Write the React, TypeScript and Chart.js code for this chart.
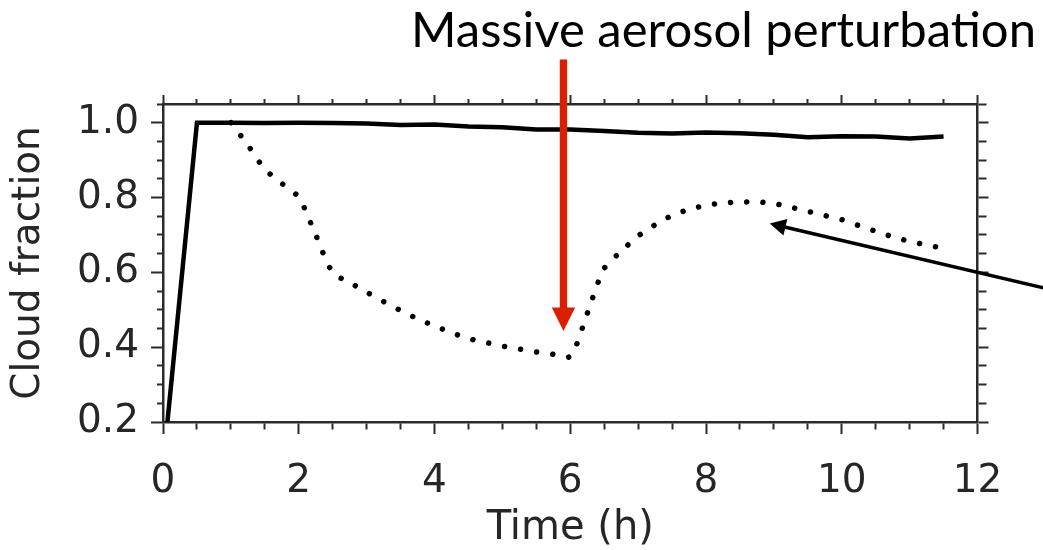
import React, { useEffect, useRef } from 'react';
import { Chart, registerables } from 'chart.js';

Chart.register(...registerables);

// ---- Data ----
const timeSolid = [0, 0.5, 1, 1.5, 2, 2.5, 3, 3.5, 4, 4.5, 5, 5.5, 6, 6.5, 7, 7.5, 8, 8.5, 9, 9.5, 10, 10.5, 11, 11.5];
const cloudSolid = [0.08, 1.0, 1.0, 0.999, 1.0, 0.999, 0.998, 0.994, 0.995, 0.99, 0.988, 0.982, 0.982, 0.978, 0.973, 0.971, 0.974, 0.972, 0.968, 0.961, 0.964, 0.963, 0.958, 0.963];

const timeDotted = [1.0, 1.25, 1.5, 1.75, 2.0, 2.25, 2.5, 2.75, 3.0, 3.25, 3.5, 3.75, 4.0, 4.25, 4.5, 4.75, 5.0, 5.25, 5.5, 5.75, 6.0, 6.25, 6.5, 6.75, 7.0, 7.25, 7.5, 7.75, 8.0, 8.25, 8.5, 8.75, 9.0, 9.25, 9.5, 9.75, 10.0, 10.25, 10.5, 10.75, 11.0, 11.25, 11.4];
const cloudDotted = [1.0, 0.94, 0.876, 0.838, 0.8, 0.7, 0.6, 0.573, 0.547, 0.522, 0.498, 0.476, 0.457, 0.439, 0.423, 0.413, 0.403, 0.395, 0.387, 0.381, 0.376, 0.49, 0.61, 0.656, 0.697, 0.727, 0.752, 0.768, 0.779, 0.785, 0.788, 0.788, 0.784, 0.774, 0.763, 0.752, 0.741, 0.725, 0.71, 0.695, 0.683, 0.673, 0.668];

const xMajorTicks = [0, 2, 4, 6, 8, 10, 12];
const xTickLabels = ['0', '2', '4', '6', '8', '10', '12'];
const yMajorTicks = [0.2, 0.4, 0.6, 0.8, 1.0];
const yTickLabels = ['0.2', '0.4', '0.6', '0.8', '1.0'];
const xMinorStep = 0.5;
const yMinorStep = 0.05;
const xMin = 0, xMax = 12, yMin = 0.2, yMax = 1.05;

const titleText = 'Massive aerosol perturbation';
const xTitle = 'Time (h)';
const yTitle = 'Cloud fraction';

// annotation arrows in data units
const redArrow = { x: 5.9, yFrom: 1.169, yHead: 0.506, yTo: 0.443 };
const blackArrow = { xFrom: 13.2, yFrom: 0.549, xTo: 8.94, yTo: 0.7305 };

const axisColor = '#2b2b2b';
const labelColor = '#262626';

function stepTicks(min: number, max: number, step: number) {
  const n = Math.round((max - min) / step);
  return Array.from({ length: n + 1 }, (_, i) => +(min + i * step).toFixed(4));
}
function majorIndex(v: number, majors: number[]) {
  return majors.findIndex((m) => Math.abs(m - v) < 1e-6);
}

function gridFor(majorLen: number, minorLen: number, fromAxis: boolean, majors: number[]) {
  return {
    drawOnChartArea: false,
    drawTicks: true,
    tickLength: majorLen,
    tickWidth: 2,
    tickColor: axisColor,
    tickBorderDash: (ctx: any) => {
      const v = ctx.tick ? ctx.tick.value : NaN;
      if (majorIndex(v, majors) >= 0) return [];
      return fromAxis ? [minorLen, 200] : [0, majorLen - minorLen, minorLen, 200];
    },
  };
}

const annotatePlugin = {
  id: 'annotate',
  afterDraw(chart: any) {
    const { ctx } = chart;
    const x = chart.scales.x;
    const y = chart.scales.y;
    ctx.save();
    // black arrow
    const bx0 = x.getPixelForValue(blackArrow.xFrom);
    const by0 = y.getPixelForValue(blackArrow.yFrom);
    const bx1 = x.getPixelForValue(blackArrow.xTo);
    const by1 = y.getPixelForValue(blackArrow.yTo);
    const ang = Math.atan2(by1 - by0, bx1 - bx0);
    const hl = 16, hw = 8.5;
    const hbx = bx1 - hl * Math.cos(ang);
    const hby = by1 - hl * Math.sin(ang);
    ctx.strokeStyle = '#000';
    ctx.lineWidth = 3.5;
    ctx.beginPath();
    ctx.moveTo(bx0, by0);
    ctx.lineTo(hbx + 3 * Math.cos(ang), hby + 3 * Math.sin(ang));
    ctx.stroke();
    ctx.fillStyle = '#000';
    ctx.beginPath();
    ctx.moveTo(bx1, by1);
    ctx.lineTo(hbx - hw * Math.sin(ang), hby + hw * Math.cos(ang));
    ctx.lineTo(hbx + hw * Math.sin(ang), hby - hw * Math.cos(ang));
    ctx.closePath();
    ctx.fill();

    // red arrow
    const rx = x.getPixelForValue(redArrow.x);
    const ry0 = y.getPixelForValue(redArrow.yFrom);
    const ryh = y.getPixelForValue(redArrow.yHead);
    const ry1 = y.getPixelForValue(redArrow.yTo);
    ctx.fillStyle = '#d82000';
    ctx.fillRect(rx - 3.7, ry0, 7.4, ryh - ry0 + 1);
    ctx.beginPath();
    ctx.moveTo(rx - 11.7, ryh);
    ctx.lineTo(rx + 11.7, ryh);
    ctx.lineTo(rx, ry1);
    ctx.closePath();
    ctx.fill();

    // title
    ctx.fillStyle = '#000';
    ctx.font = '49px Lato, "Open Sans", sans-serif';
    ctx.textAlign = 'center';
    ctx.textBaseline = 'alphabetic';
    ctx.fillText(titleText, 723.5, 47);
    ctx.restore();
  },
};

export default function App() {
  const ref = useRef<HTMLCanvasElement | null>(null);
  useEffect(() => {
    if (!ref.current) return;
    const tickFont = { family: '"DejaVu Sans", sans-serif', size: 39 };
    const xAll = stepTicks(xMin, xMax, xMinorStep);
    const yAll = stepTicks(yMin, yMax, yMinorStep);
    const chart = new Chart(ref.current, {
      type: 'line',
      data: {
        datasets: [
          {
            label: 'control',
            data: timeSolid.map((t, i) => ({ x: t, y: cloudSolid[i] })),
            borderColor: '#000',
            borderWidth: 4.5,
            pointRadius: 0,
            tension: 0,
            fill: false,
          },
          {
            label: 'perturbed',
            data: timeDotted.map((t, i) => ({ x: t, y: cloudDotted[i] })),
            borderColor: '#000',
            borderWidth: 5.5,
            borderDash: [0.01, 16.2],
            borderCapStyle: 'round',
            pointRadius: 0,
            tension: 0.3,
            fill: false,
          },
        ],
      },
      options: {
        animation: false,
        responsive: false,
        events: [],
        layout: { padding: { top: 95, right: 54.5, left: 0, bottom: 0 } },
        plugins: { legend: { display: false }, tooltip: { enabled: false }, title: { display: false } },
        scales: {
          x: {
            type: 'linear',
            position: 'bottom',
            min: xMin,
            max: xMax,
            afterBuildTicks: (s: any) => { s.ticks = xAll.map((v) => ({ value: v })); },
            afterFit: (s: any) => { s.height = 128; },
            border: { display: true, color: axisColor, width: 2.5 },
            grid: gridFor(12, 6, true, xMajorTicks),
            ticks: {
              autoSkip: false,
              maxRotation: 0,
              padding: 24,
              color: labelColor,
              font: tickFont,
              callback: (v: any) => { const i = majorIndex(Number(v), xMajorTicks); return i >= 0 ? xTickLabels[i] : ''; },
            },
            title: {
              display: true,
              text: xTitle,
              color: labelColor,
              font: { family: '"DejaVu Sans", sans-serif', size: 40, lineHeight: 1.0 },
              padding: { top: 0, bottom: 1 },
            },
          },
          x2: {
            type: 'linear',
            position: 'top',
            display: true,
            min: xMin,
            max: xMax,
            afterBuildTicks: (s: any) => { s.ticks = xAll.map((v) => ({ value: v })); },
            afterFit: (s: any) => { s.height = 9; },
            border: { display: true, color: axisColor, width: 2.5 },
            grid: gridFor(9, 5, false, xMajorTicks),
            ticks: { display: false, autoSkip: false },
          },
          y: {
            type: 'linear',
            position: 'left',
            min: yMin,
            max: yMax,
            afterBuildTicks: (s: any) => { s.ticks = yAll.map((v) => ({ value: v })); },
            afterFit: (s: any) => { s.width = 163; },
            border: { display: true, color: axisColor, width: 2.5 },
            grid: gridFor(12, 6, false, yMajorTicks),
            ticks: {
              autoSkip: false,
              padding: 12,
              color: labelColor,
              font: tickFont,
              callback: (v: any) => { const i = majorIndex(Number(v), yMajorTicks); return i >= 0 ? yTickLabels[i] : ''; },
            },
            title: {
              display: true,
              text: yTitle,
              color: labelColor,
              font: { family: '"DejaVu Sans", sans-serif', size: 39 },
              padding: { top: 5, bottom: 0 },
            },
          },
          y2: {
            type: 'linear',
            position: 'right',
            display: true,
            min: yMin,
            max: yMax,
            afterBuildTicks: (s: any) => { s.ticks = yAll.map((v) => ({ value: v })); },
            afterFit: (s: any) => { s.width = 11; },
            border: { display: true, color: axisColor, width: 2.5 },
            grid: gridFor(11, 8, true, yMajorTicks),
            ticks: { display: false, autoSkip: false },
          },
        },
      },
      plugins: [annotatePlugin],
    } as any);
    return () => chart.destroy();
  }, []);

  return (
    <div style={{ position: 'fixed', left: 0, top: 0, width: 1043, height: 550, background: '#fff' }}>
      <canvas ref={ref} width={1043} height={550} style={{ width: 1043, height: 550, display: 'block' }} />
    </div>
  );
}
